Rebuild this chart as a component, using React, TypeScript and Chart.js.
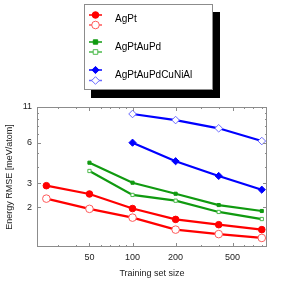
import React, { useEffect, useRef } from "react";
import { Chart, registerables } from "chart.js";

Chart.register(...registerables);

const sizes = [25, 50, 100, 200, 400, 800];
const agptFilled = [2.89, 2.51, 1.96, 1.63, 1.49, 1.37];
const agptOpen = [2.32, 1.95, 1.68, 1.37, 1.27, 1.19];
const greenSizes = [50, 100, 200, 400, 800];
const agptaupdFilled = [4.27, 3.04, 2.52, 2.08, 1.88];
const agptaupdOpen = [3.71, 2.47, 2.24, 1.85, 1.64];
const blueSizes = [100, 200, 400, 800];
const hea7Filled = [6.0, 4.38, 3.41, 2.7];
const hea7Open = [9.77, 8.81, 7.66, 6.17];

const xTickLabels = [50, 100, 200, 500];
const yTickLabels = [2, 3, 6, 11];
const legendNames = ["AgPt", "AgPtAuPd", "AgPtAuPdCuNiAl"];

const xMinor = [30, 40, 50, 60, 70, 80, 90, 100, 200, 300, 400, 500, 600, 700, 800];
const yMinor = [2, 3, 4, 5, 6, 7, 8, 9, 10, 11];

const RED = "#ff0000";
const RED_L = "#ff5a5a";
const GREEN = "#109a10";
const GREEN_L = "#4cba4c";
const BLUE = "#0000ff";
const BLUE_L = "#6a6aff";

const FONT = "'Liberation Sans', Arial, sans-serif";

function pts(xs: number[], ys: number[]) {
  return xs.map((x, i) => ({ x, y: ys[i] }));
}

const framePlugin = {
  id: "frame",
  afterDraw(chart: any) {
    const { ctx, chartArea: a, scales } = chart;
    ctx.save();
    ctx.strokeStyle = "#8c8c8c";
    ctx.lineWidth = 1;
    ctx.strokeRect(a.left + 0.5, a.top + 0.5, a.right - a.left - 1, a.bottom - a.top - 1);
    ctx.beginPath();
    xMinor.forEach((v) => {
      const px = Math.round(scales.x.getPixelForValue(v)) + 0.5;
      const len = xTickLabels.includes(v) ? 4 : 2;
      ctx.moveTo(px, a.bottom);
      ctx.lineTo(px, a.bottom - len);
      ctx.moveTo(px, a.top);
      ctx.lineTo(px, a.top + len);
    });
    yMinor.forEach((v) => {
      const py = Math.round(scales.y.getPixelForValue(v)) + 0.5;
      const len = yTickLabels.includes(v) ? 4 : 2;
      ctx.moveTo(a.left, py);
      ctx.lineTo(a.left + len, py);
      ctx.moveTo(a.right, py);
      ctx.lineTo(a.right - len, py);
    });
    ctx.stroke();

    // legend box
    const bx = 84, by = 4, bw = 129, bh = 86;
    ctx.fillStyle = "#000";
    ctx.fillRect(bx + 7, by + 8, bw, bh);
    ctx.fillStyle = "#fff";
    ctx.fillRect(bx, by, bw, bh);
    ctx.strokeStyle = "#8c8c8c";
    ctx.strokeRect(bx + 0.5, by + 0.5, bw - 1, bh - 1);

    const ds = chart.data.datasets;
    const rows = [
      [ds[0], ds[1], 15, 25, 19],
      [ds[2], ds[3], 42, 52, 47],
      [ds[4], ds[5], 70, 80.5, 75],
    ];
    rows.forEach((r: any, i: number) => {
      [r[0], r[1]].forEach((d: any, j: number) => {
        const y = j === 0 ? r[2] : r[3];
        ctx.strokeStyle = j === 0 ? d.borderColor : d.pointBorderColor;
        ctx.lineWidth = 1.5;
        ctx.beginPath();
        ctx.moveTo(89, y);
        ctx.lineTo(102, y);
        ctx.stroke();
        ctx.lineWidth = d.pointBorderWidth;
        ctx.fillStyle = d.pointBackgroundColor;
        ctx.strokeStyle = d.pointBorderColor;
        ctx.beginPath();
        const cx = 95.5;
        const rr = d.pointRadius;
        if (d.pointStyle === "circle") {
          ctx.arc(cx, y, rr, 0, Math.PI * 2);
        } else if (d.pointStyle === "rect") {
          ctx.rect(cx - rr, y - rr, rr * 2, rr * 2);
        } else {
          ctx.moveTo(cx, y - rr);
          ctx.lineTo(cx + rr, y);
          ctx.lineTo(cx, y + rr);
          ctx.lineTo(cx - rr, y);
          ctx.closePath();
        }
        ctx.fill();
        ctx.stroke();
      });
      ctx.fillStyle = "#000";
      ctx.font = `10px ${FONT}`;
      ctx.textBaseline = "middle";
      ctx.textAlign = "left";
      ctx.fillText(legendNames[i], 115, r[4]);
    });
    ctx.restore();
  },
};

export default function App() {
  const ref = useRef<HTMLCanvasElement | null>(null);
  useEffect(() => {
    document.body.style.margin = "0";
    const mk = (label: string, data: any, color: string, style: string, filled: boolean, radius: number, lightColor: string) => ({
      label,
      data,
      borderColor: color,
      backgroundColor: color,
      borderWidth: 2.2,
      pointStyle: style,
      pointRadius: radius,
      pointBackgroundColor: filled ? color : "#ffffff",
      pointBorderColor: filled ? color : lightColor,
      pointBorderWidth: 1,
      tension: 0,
      order: filled ? 1 : 2,
    });
    const chart = new Chart(ref.current as HTMLCanvasElement, {
      type: "line",
      data: {
        datasets: [
          mk("AgPt", pts(sizes, agptFilled), RED, "circle", true, 3.3, RED_L),
          mk("AgPt", pts(sizes, agptOpen), RED, "circle", false, 3.8, RED_L),
          mk("AgPtAuPd", pts(greenSizes, agptaupdFilled), GREEN, "rect", true, 2.2, GREEN_L),
          mk("AgPtAuPd", pts(greenSizes, agptaupdOpen), GREEN, "rect", false, 2.3, GREEN_L),
          mk("AgPtAuPdCuNiAl", pts(blueSizes, hea7Filled), BLUE, "rectRot", true, 3.6, BLUE_L),
          mk("AgPtAuPdCuNiAl", pts(blueSizes, hea7Open), BLUE, "rectRot", false, 3.8, BLUE_L),
        ] as any,
      },
      options: {
        animation: false,
        responsive: false,
        maintainAspectRatio: false,
        layout: { padding: { top: 107, right: 26, left: 0, bottom: 0 } },
        plugins: { legend: { display: false }, tooltip: { enabled: false } },
        scales: {
          x: {
            type: "logarithmic",
            min: 21.5,
            max: 870,
            grid: { display: false, drawTicks: false },
            border: { display: false },
            afterBuildTicks: (s: any) => {
              s.ticks = xTickLabels.map((v) => ({ value: v }));
            },
            afterFit: (s: any) => {
              s.height = 38;
            },
            ticks: {
              autoSkip: false,
              maxRotation: 0,
              padding: 5,
              color: "#222",
              font: { family: FONT, size: 9 },
              callback: (v: any) => String(v),
            },
            title: {
              display: true,
              text: "Training set size",
              color: "#222",
              font: { family: FONT, size: 9 },
              padding: { top: 0, bottom: 6 },
            },
          },
          y: {
            type: "logarithmic",
            min: 1.02,
            max: 11,
            grid: { display: false, drawTicks: false },
            border: { display: false },
            afterBuildTicks: (s: any) => {
              s.ticks = yTickLabels.map((v) => ({ value: v }));
            },
            afterFit: (s: any) => {
              s.width = 37;
            },
            ticks: {
              autoSkip: false,
              padding: 5,
              color: "#222",
              font: { family: FONT, size: 9 },
              callback: (v: any) => String(v),
            },
            title: {
              display: true,
              text: "Energy RMSE [meV/atom]",
              color: "#222",
              font: { family: FONT, size: 9 },
              padding: { top: 4, bottom: 0 },
            },
          },
        },
      } as any,
      plugins: [framePlugin],
    });
    return () => chart.destroy();
  }, []);
  return (
    <div style={{ position: "fixed", left: 0, top: 0, width: 293, height: 285, background: "#fff" }}>
      <canvas ref={ref} width={293} height={285} style={{ width: 293, height: 285, display: "block" }} />
    </div>
  );
}
